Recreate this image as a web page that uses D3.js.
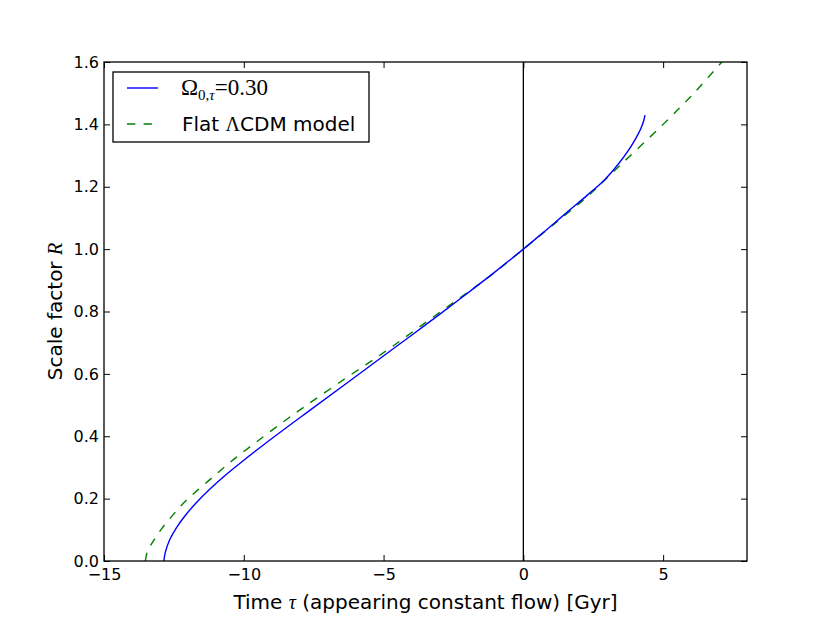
<!DOCTYPE html>
<html>
<head>
<meta charset="utf-8">
<script src="https://cdn.jsdelivr.net/npm/d3@7"></script>
<style>
  body { margin: 0; background: #fff; }
</style>
</head>
<body>
<svg id="chart" width="830" height="623" font-family="DejaVu Sans, sans-serif"></svg>
<script>
// values
const blueTau = [-12.86, -12.80, -12.65, -12.40, -12.10, -11.70, -11.20, -10.70, -10.10, -9.30, -7.70, -6.20, -4.80, -3.50, -2.20, -1.00, 0.00, 0.80, 1.60, 2.30, 2.90, 3.40, 3.80, 4.10, 4.20, 4.30, 4.35];
const blueR   = [0.000, 0.030, 0.068, 0.108, 0.145, 0.187, 0.232, 0.272, 0.316, 0.372, 0.479, 0.578, 0.671, 0.757, 0.845, 0.928, 1.000, 1.060, 1.121, 1.174, 1.222, 1.273, 1.322, 1.368, 1.386, 1.410, 1.430];
const greenTau = [-13.52, -13.45, -13.25, -12.95, -12.53, -12.11, -11.64, -11.16, -10.68, -10.26, -9.78, -8.59, -7.81, -6.32, -5.00, -3.80, -2.50, -1.20, 0.00, 1.10, 2.28, 3.50, 5.00, 6.10, 7.06, 7.50];
const greenR   = [0.000, 0.030, 0.062, 0.102, 0.148, 0.190, 0.228, 0.265, 0.302, 0.333, 0.366, 0.446, 0.496, 0.588, 0.668, 0.745, 0.829, 0.913, 1.000, 1.080, 1.168, 1.272, 1.400, 1.500, 1.596, 1.640];
const xTicks = [-15, -10, -5, 0, 5];
const yTicks = [0.0, 0.2, 0.4, 0.6, 0.8, 1.0, 1.2, 1.4, 1.6];

const margin = {left: 104, right: 83, top: 62, bottom: 62};
const W = 830, H = 623;
const svg = d3.select("#chart");
const serif = "Liberation Serif, DejaVu Serif, serif";

const x = d3.scaleLinear().domain([-15, 8]).range([margin.left, W - margin.right]);
const y = d3.scaleLinear().domain([0, 1.6]).range([H - margin.bottom, margin.top]);

svg.append("defs").append("clipPath").attr("id", "clip")
    .append("rect")
    .attr("x", margin.left).attr("y", margin.top)
    .attr("width", W - margin.left - margin.right)
    .attr("height", H - margin.top - margin.bottom);

const plot = svg.append("g").attr("clip-path", "url(#clip)");

const line = d3.line()
    .x(d => x(d[0]))
    .y(d => y(d[1]))
    .curve(d3.curveCatmullRom.alpha(0.5));

// zero line
plot.append("line")
    .attr("x1", x(0)).attr("x2", x(0))
    .attr("y1", y(0)).attr("y2", y(1.6))
    .attr("stroke", "#000").attr("stroke-width", 1.3);

plot.append("path")
    .datum(greenTau.map((t, i) => [t, greenR[i]]))
    .attr("d", line)
    .attr("fill", "none")
    .attr("stroke", "#008000")
    .attr("stroke-width", 1.4)
    .attr("stroke-dasharray", "8.3,8.3");

plot.append("path")
    .datum(blueTau.map((t, i) => [t, blueR[i]]))
    .attr("d", line)
    .attr("fill", "none")
    .attr("stroke", "#0000ff")
    .attr("stroke-width", 1.4);

// axes, ticks pointing inward on all four sides
const tickLen = 6;
svg.append("g")
    .attr("transform", `translate(0,${H - margin.bottom})`)
    .call(d3.axisBottom(x).tickValues(xTicks).tickSizeInner(-tickLen).tickSizeOuter(0).tickPadding(8)
        .tickFormat(d => d < 0 ? "\u2212" + Math.abs(d) : d))
    .call(g => g.select(".domain").remove())
    .selectAll("text").attr("font-size", 16).attr("font-family", "DejaVu Sans").attr("fill", "#000");

svg.append("g")
    .attr("transform", `translate(0,${margin.top})`)
    .call(d3.axisTop(x).tickValues(xTicks).tickSizeInner(-tickLen).tickSizeOuter(0).tickFormat(""))
    .call(g => g.select(".domain").remove());

svg.append("g")
    .attr("transform", `translate(${margin.left},0)`)
    .call(d3.axisLeft(y).tickValues(yTicks).tickSizeInner(-tickLen).tickSizeOuter(0).tickPadding(5)
        .tickFormat(d3.format(".1f")))
    .call(g => g.select(".domain").remove())
    .selectAll("text").attr("font-size", 16).attr("font-family", "DejaVu Sans").attr("fill", "#000");

svg.append("g")
    .attr("transform", `translate(${W - margin.right},0)`)
    .call(d3.axisRight(y).tickValues(yTicks).tickSizeInner(-tickLen).tickSizeOuter(0).tickFormat(""))
    .call(g => g.select(".domain").remove());

svg.selectAll(".tick line").attr("stroke", "#000");

svg.append("rect")
    .attr("x", margin.left).attr("y", margin.top)
    .attr("width", W - margin.left - margin.right)
    .attr("height", H - margin.top - margin.bottom)
    .attr("fill", "none").attr("stroke", "#000").attr("stroke-width", 1.3);

// axis labels
const xl = svg.append("text")
    .attr("x", (margin.left + W - margin.right) / 2)
    .attr("y", 609)
    .attr("text-anchor", "middle")
    .attr("font-size", 20);
xl.append("tspan").text("Time ");
xl.append("tspan").attr("font-family", serif).attr("font-style", "italic").text("\u03c4");
xl.append("tspan").text(" (appearing constant flow) [Gyr]");

const yl = svg.append("text")
    .attr("transform", `translate(62,${(margin.top + H - margin.bottom) / 2}) rotate(-90)`)
    .attr("text-anchor", "middle")
    .attr("font-size", 20);
yl.append("tspan").text("Scale factor ");
yl.append("tspan").attr("font-family", serif).attr("font-style", "italic").text("R");

// legend
const lg = svg.append("g");
lg.append("rect")
    .attr("x", 113).attr("y", 72).attr("width", 256).attr("height", 70)
    .attr("fill", "#fff").attr("stroke", "#000").attr("stroke-width", 1.3);

lg.append("line").attr("x1", 127).attr("x2", 158).attr("y1", 88).attr("y2", 88)
    .attr("stroke", "#0000ff").attr("stroke-width", 1.4);
lg.append("line").attr("x1", 127).attr("x2", 158).attr("y1", 124).attr("y2", 124)
    .attr("stroke", "#008000").attr("stroke-width", 1.4).attr("stroke-dasharray", "8.3,8.3");

const t1 = lg.append("text").attr("x", 181).attr("y", 95)
    .attr("font-size", 23).attr("font-family", serif);
t1.append("tspan").text("\u03a9");
t1.append("tspan").attr("font-size", 15).attr("dy", 5).text("0,");
t1.append("tspan").attr("font-size", 15).attr("font-style", "italic").text("\u03c4");
t1.append("tspan").attr("dy", -5).text("=0.30");

const t2 = lg.append("text").attr("x", 182).attr("y", 131).attr("font-size", 20);
t2.append("tspan").text("Flat ");
t2.append("tspan").attr("font-family", serif).text("\u039b");
t2.append("tspan").text("CDM model");
</script>
</body>
</html>
